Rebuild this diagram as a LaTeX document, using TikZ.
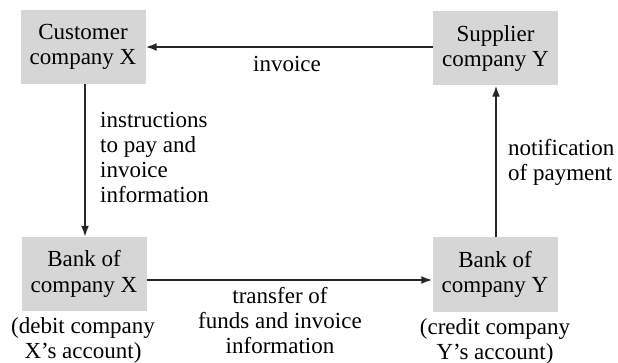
\documentclass[tikz,border=0pt]{standalone}
\usepackage{fontspec}
\setmainfont{Liberation Serif}
\usetikzlibrary{arrows.meta}
\begin{document}
\begin{tikzpicture}[x=1pt,y=-1pt,
  party/.style={fill=black!16, minimum width=125pt, minimum height=74pt,
    inner sep=0pt, align=center, font=\fontsize{23}{25.5}\selectfont},
  note/.style={inner sep=0pt, font=\fontsize{23}{25}\selectfont},
  flow/.style={draw=black!85, line width=1.9pt,
    -{Latex[length=11pt,width=8pt]}}]
  \useasboundingbox (0,0) rectangle (618,363);

  % the four parties
  \node[party] (cust) at (83,47)    {Customer\\company X};
  \node[party] (supp) at (495.5,48.5) {Supplier\\company Y};
  \node[party] (bankx) at (84,274)  {Bank of\\company X};
  \node[party] (banky) at (495,274.5) {Bank of\\company Y};

  % account remarks under the banks
  \node[note, align=center, anchor=north] (debit) at (83,317)
    {(debit company\\X's account)};
  \node[note, align=center, anchor=north] (credit) at (495,318)
    {(credit company\\Y's account)};

  % flows between the parties
  \draw[flow] (supp.west |- 0,47) -- (cust.east |- 0,47);
  \draw[flow] (cust.south -| 85,0) -- (bankx.north -| 85,0);
  \draw[flow] (bankx.east |- 0,280) -- (banky.west |- 0,280);
  \draw[flow] (banky.north -| 496,0) -- (supp.south -| 496,0);

  % flow labels
  \node[note, anchor=base] (linv) at (287,72) {invoice};
  \node[note, align=left, anchor=north west] (linstr) at (100,112.5)
    {instructions\\to pay and\\invoice\\information};
  \node[note, align=left, anchor=north west] (lnotif) at (508,139)
    {notification\\of payment};
  \node[note, align=center, anchor=north] (ltrans) at (280,287.5)
    {transfer of\\funds and invoice\\information};
\end{tikzpicture}
\end{document}
